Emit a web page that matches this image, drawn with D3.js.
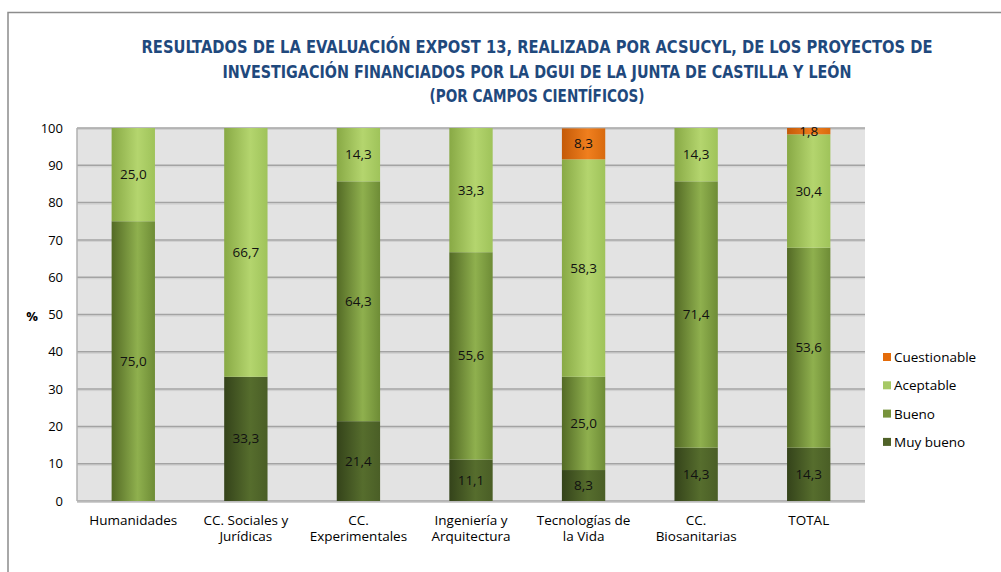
<!DOCTYPE html>
<html>
<head>
<meta charset="utf-8">
<script src="https://cdn.jsdelivr.net/npm/d3@7"></script>
<style>
  body { margin: 0; background: #fff; }
  svg text { font-family: "Open Sans", "DejaVu Sans", sans-serif; }
</style>
</head>
<body>
<div id="chart"></div>
<script>
// data
var categories = [["Humanidades"], ["CC. Sociales y", "Jurídicas"], ["CC.", "Experimentales"],
                  ["Ingeniería y", "Arquitectura"], ["Tecnologías de", "la Vida"], ["CC.", "Biosanitarias"], ["TOTAL"]];
var seriesNames = ["Muy bueno", "Bueno", "Aceptable", "Cuestionable"];
var muyBueno = [0, 33.3, 21.4, 11.1, 8.3, 14.3, 14.3];
var bueno = [75.0, 0, 64.3, 55.6, 25.0, 71.4, 53.6];
var aceptable = [25.0, 66.7, 14.3, 33.3, 58.3, 14.3, 30.4];
var cuestionable = [0, 0, 0, 0, 8.3, 0, 1.8];
var yTicks = [0, 10, 20, 30, 40, 50, 60, 70, 80, 90, 100];
var titleLines = ["RESULTADOS DE LA EVALUACIÓN  EXPOST 13, REALIZADA POR ACSUCYL, DE LOS PROYECTOS DE",
                  "INVESTIGACIÓN  FINANCIADOS POR LA DGUI DE LA JUNTA DE CASTILLA Y LEÓN",
                  "(POR CAMPOS CIENTÍFICOS)"];

var colors = {
  "Muy bueno":    ["#34431a", "#566d2d", "#4a5e26"],
  "Bueno":        ["#536a25", "#8fb04e", "#6e8c36"],
  "Aceptable":    ["#88a945", "#b4d56e", "#9fc35a"],
  "Cuestionable": ["#c45a08", "#f07f1e", "#d86a0e"]
};
var legendColors = {"Muy bueno": "#4f6228", "Bueno": "#77933c", "Aceptable": "#a6c865", "Cuestionable": "#e46c0a"};

var W = 1001, H = 572;
var margin = {top: 128, right: 136, bottom: 71, left: 77},
    width = W - margin.left - margin.right,
    height = H - margin.top - margin.bottom;

var svg = d3.select("#chart").append("svg")
    .attr("width", W).attr("height", H);

// outer frame
svg.append("path")
    .attr("d", "M8,572 L8,12.5 L1001,12.5")
    .attr("fill", "none").attr("stroke", "#8c8c8c").attr("stroke-width", 1.5);

// gradients for the cylinder look
var defs = svg.append("defs");
seriesNames.forEach(function(s, i) {
  var g = defs.append("linearGradient").attr("id", "grad" + i)
      .attr("x1", "0%").attr("x2", "100%").attr("y1", "0%").attr("y2", "0%");
  g.append("stop").attr("offset", "0%").attr("stop-color", colors[s][0]);
  g.append("stop").attr("offset", "60%").attr("stop-color", colors[s][1]);
  g.append("stop").attr("offset", "100%").attr("stop-color", colors[s][2]);
});

// title
svg.append("g").selectAll("text")
  .data(titleLines)
  .enter().append("text")
    .attr("x", 537)
    .attr("y", (d, i) => 53 + i * 24.5)
    .attr("text-anchor", "middle")
    .attr("fill", "#1f497d")
    .attr("font-weight", "bold")
    .attr("font-size", "17px")
    .attr("textLength", (d, i) => [791, 629, 215][i])
    .attr("lengthAdjust", "spacingAndGlyphs")
    .style("font-family", "'Liberation Sans Narrow', 'DejaVu Sans Condensed', 'Open Sans', sans-serif")
    .text(d => d);

var plot = svg.append("g").attr("transform", `translate(${margin.left},${margin.top})`);

var xScale = d3.scaleBand().domain(d3.range(categories.length)).range([0, width])
    .paddingInner(0.615).paddingOuter(0.3075);
var yScale = d3.scaleLinear().domain([0, 100]).range([height, 0]);

plot.append("rect")
    .attr("width", width).attr("height", height)
    .attr("fill", "#e3e3e3");

// gridlines with a soft shadow
plot.append("g").selectAll("line.shadow")
  .data(yTicks)
  .enter().append("line")
    .attr("x1", 0).attr("x2", width)
    .attr("y1", d => yScale(d) + 1.5).attr("y2", d => yScale(d) + 1.5)
    .attr("stroke", "#cfcfcf").attr("stroke-width", 1);
plot.append("g").selectAll("line.grid")
  .data(yTicks)
  .enter().append("line")
    .attr("x1", 0).attr("x2", width)
    .attr("y1", d => yScale(d)).attr("y2", d => yScale(d))
    .attr("stroke", "#a3a3a3").attr("stroke-width", 1.5);
plot.append("line")
    .attr("x1", 0).attr("x2", 0).attr("y1", 0).attr("y2", height)
    .attr("stroke", "#b0b0b0").attr("stroke-width", 1.5);

// y axis labels
var yAxis = d3.axisLeft(yScale).tickValues(yTicks).tickSize(0).tickPadding(14);
plot.append("g").call(yAxis)
  .call(g => g.select(".domain").remove())
  .selectAll("text")
    .attr("font-size", "13px")
    .attr("fill", "#000")
    .style("font-family", "'Open Sans', sans-serif");

svg.append("text")
    .attr("x", 32).attr("y", 321)
    .attr("text-anchor", "middle")
    .attr("font-size", "13px").attr("font-weight", "bold")
    .text("%");

// stacked bars
var rows = categories.map((c, i) => ({
  i: i, "Muy bueno": muyBueno[i], "Bueno": bueno[i], "Aceptable": aceptable[i], "Cuestionable": cuestionable[i]
}));
var stacked = d3.stack().keys(seriesNames)(rows);

stacked.forEach(function(layer, li) {
  var lg = plot.append("g");
  lg.selectAll("rect")
    .data(layer.filter(d => d[1] - d[0] > 0))
    .enter().append("rect")
      .attr("x", d => xScale(d.data.i))
      .attr("width", xScale.bandwidth())
      .attr("y", d => yScale(Math.min(d[1], 100)))
      .attr("height", d => yScale(d[0]) - yScale(Math.min(d[1], 100)))
      .attr("fill", "url(#grad" + li + ")");
});

stacked.forEach(function(layer) {
  plot.append("g").selectAll("text")
    .data(layer.filter(d => d[1] - d[0] > 0))
    .enter().append("text")
      .attr("x", d => xScale(d.data.i) + xScale.bandwidth() / 2)
      .attr("y", d => (yScale(d[0]) + yScale(Math.min(d[1], 100))) / 2 + 4.5)
      .attr("text-anchor", "middle")
      .attr("font-size", "13.5px")
      .attr("fill", "#111")
      .text(d => d3.format(".1f")(d[1] - d[0]).replace(".", ","));
});

// x labels
var xl = plot.append("g").selectAll("text")
  .data(categories)
  .enter().append("text")
    .attr("text-anchor", "middle")
    .attr("font-size", "13.5px")
    .attr("fill", "#000")
    .attr("transform", (d, i) => `translate(${xScale(i) + xScale.bandwidth() / 2},${height + 24})`);
xl.selectAll("tspan")
  .data(d => d)
  .enter().append("tspan")
    .attr("x", 0)
    .attr("y", (d, i) => i * 16)
    .text(d => d);

// legend
var legend = svg.append("g").attr("transform", "translate(883,0)");
var legendOrder = ["Cuestionable", "Aceptable", "Bueno", "Muy bueno"];
legendOrder.forEach(function(s, i) {
  var y = 357 + i * 28.3;
  legend.append("rect")
    .attr("x", 0).attr("y", y - 4).attr("width", 8).attr("height", 8)
    .attr("fill", legendColors[s]);
  legend.append("text")
    .attr("x", 11).attr("y", y + 5)
    .attr("font-size", "13.5px")
    .text(s);
});
</script>
</body>
</html>
